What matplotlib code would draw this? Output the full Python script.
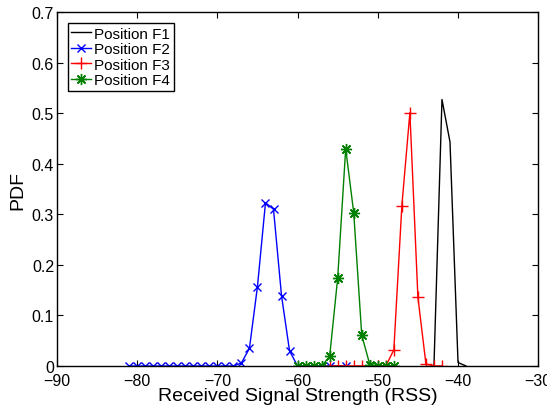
import numpy as np
import matplotlib
matplotlib.use('Agg')
import matplotlib.pyplot as plt

plt.rcParams['font.family'] = ['Liberation Sans', 'DejaVu Sans']

# Position F1 (black, no marker)
rss_f1 = [-43, -42, -41, -40, -39]
pdf_f1 = [0.0, 0.527, 0.443, 0.007, 0.0]

# Position F2 (blue x)
rss_f2 = list(range(-81, -59)) + [-56, -54]
pdf_f2 = [0.0] * 14 + [0.006, 0.035, 0.157, 0.323, 0.310, 0.139, 0.030, 0.0, 0.0, 0.0]

# Position F3 (red +)
rss_f3 = list(range(-56, -41))
pdf_f3 = [0.0, 0.0, 0.0, 0.0, 0.0, 0.0, 0.0, 0.0, 0.032, 0.317, 0.501, 0.136, 0.004, 0.0, 0.0]

# Position F4 (green *)
rss_f4 = list(range(-60, -47))
pdf_f4 = [0.0, 0.0, 0.0, 0.0, 0.019, 0.174, 0.430, 0.303, 0.061, 0.003, 0.0, 0.0, 0.0]

fig = plt.figure(figsize=(5.47, 4.06), dpi=100)
ax = fig.add_axes([0.104, 0.096, 0.880, 0.872])

ax.plot(rss_f1, pdf_f1, '-', color='k', lw=1.0, label='Position F1')
ax.plot(rss_f2, pdf_f2, '-', marker='x', color='b', lw=1.0, ms=6, mew=1.0, label='Position F2')
ax.plot(rss_f3, pdf_f3, '-', marker='+', color='r', lw=1.0, ms=8, mew=1.0, label='Position F3')
ax.plot(rss_f4, pdf_f4, '-', marker=(8, 2, 0), color=(0, 0.5, 0), lw=1.0, ms=8, mew=1.0,
        label='Position F4')

ax.set_xlim(-90, -30)
ax.set_ylim(0, 0.7)
ax.set_xticks(np.arange(-90, -29, 10))
ax.set_yticks(np.arange(0, 0.71, 0.1))
ax.set_yticklabels(['0', '0.1', '0.2', '0.3', '0.4', '0.5', '0.6', '0.7'])
ax.tick_params(direction='in', top=True, right=True, labelsize=11.5, length=4)
ax.tick_params(axis='x', pad=5)
ax.tick_params(axis='y', pad=2)
for s in ax.spines.values():
    s.set_linewidth(1.0)

ax.set_xlabel('Received Signal Strength (RSS)', fontsize=14, labelpad=-1)
ax.set_ylabel('PDF', fontsize=14, labelpad=4)

leg = ax.legend(loc='upper left', fontsize=11, handlelength=1.3, handletextpad=0.2,
                borderpad=0.25, labelspacing=0.1, fancybox=False, framealpha=1,
                edgecolor='k', borderaxespad=0.7)
leg.get_frame().set_linewidth(1.0)

fig.savefig('out.png', dpi=100)
